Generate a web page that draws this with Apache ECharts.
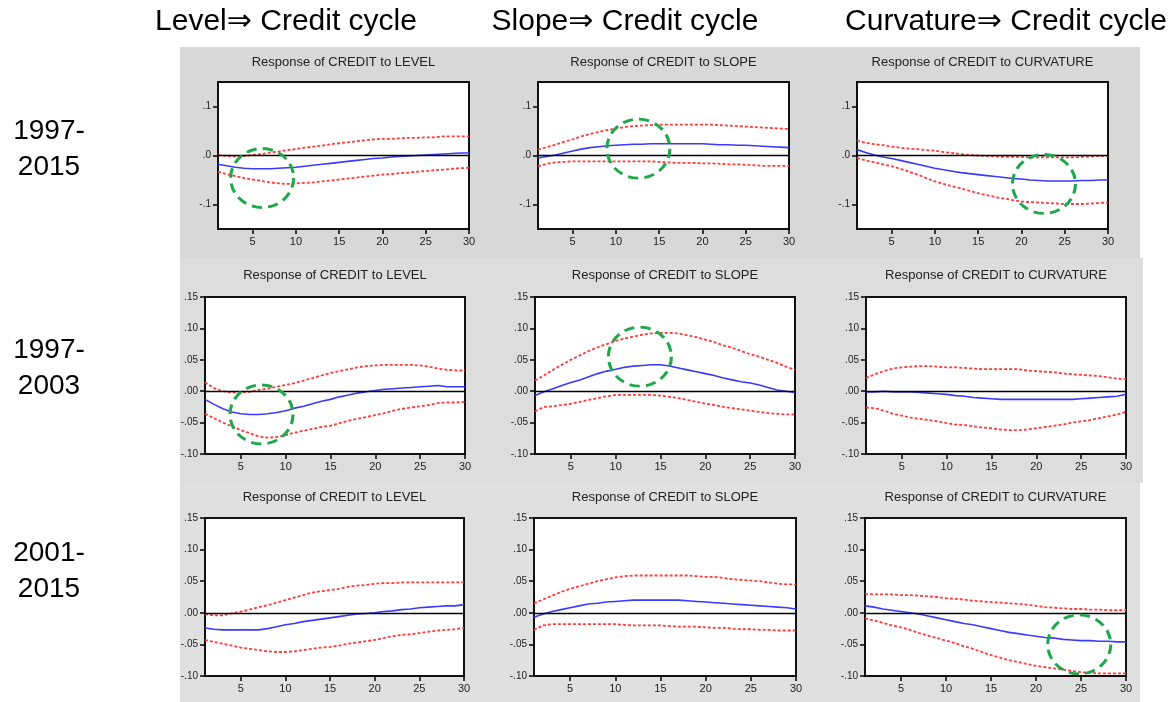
<!DOCTYPE html>
<html>
<head>
<meta charset="utf-8">
<script src="https://cdn.jsdelivr.net/npm/echarts@6/dist/echarts.min.js"></script>
<style>
html,body{margin:0;padding:0;background:#fff;}
#chart{width:1176px;height:702px;}
</style>
</head>
<body>
<div id="chart"></div>
<script>
// horizon (periods after the shock)
var steps = [1,2,3,4,5,6,7,8,9,10,11,12,13,14,15,16,17,18,19,20,21,22,23,24,25,26,27,28,29,30];

var colHeads = ['Level\u21d2 Credit cycle', 'Slope\u21d2 Credit cycle', 'Curvature\u21d2 Credit cycle'];
var rowHeads = ['1997-\n2015', '1997-\n2003', '2001-\n2015'];
var shocks = ['LEVEL', 'SLOPE', 'CURVATURE'];

// 1997-2015
var levelA   = [-0.018,-0.021,-0.024,-0.026,-0.027,-0.027,-0.027,-0.026,-0.025,-0.024,-0.022,-0.020,-0.018,-0.016,-0.014,-0.012,-0.010,-0.008,-0.006,-0.005,-0.003,-0.002,-0.001,0.000,0.001,0.002,0.003,0.004,0.005,0.005];
var levelAUp = [0.001,-0.001,-0.002,-0.001,0.001,0.003,0.006,0.008,0.011,0.013,0.016,0.018,0.020,0.023,0.025,0.027,0.029,0.031,0.033,0.034,0.034,0.035,0.036,0.036,0.037,0.037,0.039,0.039,0.039,0.039];
var levelALo = [-0.033,-0.038,-0.042,-0.046,-0.049,-0.052,-0.055,-0.057,-0.058,-0.057,-0.056,-0.055,-0.053,-0.051,-0.049,-0.047,-0.045,-0.043,-0.041,-0.039,-0.038,-0.036,-0.035,-0.033,-0.032,-0.030,-0.029,-0.027,-0.026,-0.025];
var slopeA   = [-0.005,-0.002,0.001,0.005,0.009,0.013,0.016,0.018,0.020,0.021,0.022,0.023,0.023,0.024,0.024,0.024,0.024,0.024,0.024,0.024,0.023,0.022,0.022,0.021,0.021,0.020,0.019,0.018,0.017,0.016];
var slopeAUp = [0.012,0.017,0.022,0.028,0.033,0.039,0.044,0.048,0.052,0.055,0.058,0.060,0.061,0.062,0.063,0.063,0.063,0.063,0.063,0.063,0.063,0.062,0.061,0.060,0.059,0.058,0.057,0.056,0.055,0.054];
var slopeALo = [-0.022,-0.017,-0.014,-0.013,-0.012,-0.012,-0.012,-0.012,-0.012,-0.012,-0.012,-0.012,-0.012,-0.012,-0.013,-0.014,-0.015,-0.015,-0.015,-0.016,-0.016,-0.017,-0.018,-0.018,-0.019,-0.020,-0.021,-0.021,-0.021,-0.021];
var curvA    = [0.012,0.006,0.001,-0.003,-0.006,-0.010,-0.014,-0.018,-0.022,-0.026,-0.029,-0.032,-0.035,-0.037,-0.039,-0.041,-0.043,-0.045,-0.047,-0.048,-0.050,-0.051,-0.052,-0.052,-0.052,-0.052,-0.051,-0.051,-0.050,-0.050];
var curvAUp  = [0.030,0.026,0.023,0.021,0.018,0.016,0.014,0.013,0.011,0.010,0.007,0.005,0.003,0.001,0.000,-0.001,-0.002,-0.003,-0.003,-0.003,-0.004,-0.004,-0.004,-0.004,-0.004,-0.004,-0.003,-0.002,-0.001,-0.001];
var curvALo  = [-0.005,-0.010,-0.014,-0.018,-0.022,-0.027,-0.033,-0.039,-0.046,-0.053,-0.058,-0.063,-0.067,-0.072,-0.077,-0.081,-0.085,-0.088,-0.091,-0.094,-0.095,-0.096,-0.097,-0.098,-0.099,-0.099,-0.099,-0.098,-0.097,-0.096];

// 1997-2003
var levelB   = [-0.013,-0.021,-0.028,-0.033,-0.036,-0.037,-0.037,-0.036,-0.034,-0.031,-0.027,-0.024,-0.020,-0.016,-0.013,-0.009,-0.006,-0.003,-0.001,0.001,0.003,0.004,0.005,0.006,0.007,0.008,0.009,0.007,0.007,0.007];
var levelBUp = [0.014,0.005,0.000,-0.002,-0.002,-0.001,0.002,0.004,0.007,0.010,0.013,0.017,0.021,0.025,0.029,0.032,0.035,0.038,0.040,0.041,0.042,0.042,0.042,0.042,0.041,0.039,0.036,0.034,0.033,0.033];
var levelBLo = [-0.036,-0.043,-0.050,-0.056,-0.062,-0.067,-0.072,-0.074,-0.073,-0.070,-0.066,-0.063,-0.060,-0.057,-0.055,-0.051,-0.047,-0.044,-0.041,-0.038,-0.035,-0.031,-0.028,-0.026,-0.024,-0.022,-0.019,-0.018,-0.018,-0.017];
var slopeB   = [-0.007,-0.001,0.004,0.009,0.014,0.018,0.023,0.028,0.032,0.035,0.038,0.040,0.041,0.042,0.042,0.040,0.037,0.034,0.031,0.028,0.025,0.021,0.018,0.015,0.013,0.010,0.006,0.002,0.000,-0.002];
var slopeBUp = [0.017,0.025,0.034,0.042,0.050,0.057,0.064,0.070,0.075,0.080,0.084,0.087,0.090,0.092,0.093,0.093,0.092,0.089,0.086,0.082,0.078,0.073,0.069,0.064,0.059,0.055,0.050,0.045,0.039,0.034];
var slopeBLo = [-0.032,-0.025,-0.024,-0.022,-0.020,-0.017,-0.014,-0.011,-0.008,-0.006,-0.006,-0.006,-0.006,-0.006,-0.007,-0.009,-0.011,-0.014,-0.017,-0.020,-0.022,-0.025,-0.027,-0.029,-0.031,-0.033,-0.035,-0.036,-0.037,-0.037];
var curvB    = [-0.001,-0.001,0.000,-0.001,-0.001,-0.001,-0.002,-0.003,-0.004,-0.005,-0.007,-0.008,-0.010,-0.011,-0.012,-0.013,-0.013,-0.013,-0.013,-0.013,-0.013,-0.013,-0.013,-0.013,-0.012,-0.011,-0.010,-0.009,-0.008,-0.005];
var curvBUp  = [0.021,0.027,0.032,0.036,0.038,0.039,0.040,0.040,0.039,0.038,0.038,0.037,0.036,0.035,0.035,0.035,0.035,0.035,0.033,0.032,0.031,0.030,0.028,0.027,0.026,0.025,0.024,0.022,0.020,0.019];
var curvBLo  = [-0.026,-0.027,-0.031,-0.036,-0.039,-0.042,-0.044,-0.046,-0.048,-0.051,-0.053,-0.054,-0.056,-0.058,-0.059,-0.061,-0.062,-0.062,-0.061,-0.059,-0.057,-0.055,-0.053,-0.050,-0.048,-0.046,-0.043,-0.040,-0.037,-0.033];

// 2001-2015
var levelC   = [-0.024,-0.026,-0.027,-0.027,-0.027,-0.027,-0.027,-0.025,-0.022,-0.019,-0.017,-0.014,-0.012,-0.010,-0.008,-0.006,-0.004,-0.002,-0.001,0.000,0.002,0.003,0.005,0.006,0.008,0.009,0.010,0.011,0.011,0.013];
var levelCUp = [-0.002,-0.004,-0.004,-0.001,0.002,0.005,0.009,0.012,0.016,0.020,0.024,0.028,0.032,0.034,0.036,0.038,0.041,0.043,0.044,0.046,0.047,0.047,0.048,0.048,0.048,0.048,0.048,0.048,0.048,0.048];
var levelCLo = [-0.043,-0.046,-0.049,-0.052,-0.055,-0.057,-0.059,-0.061,-0.062,-0.062,-0.061,-0.059,-0.057,-0.055,-0.054,-0.052,-0.049,-0.047,-0.045,-0.043,-0.040,-0.037,-0.035,-0.034,-0.032,-0.030,-0.028,-0.027,-0.026,-0.024];
var slopeC   = [-0.007,-0.002,0.002,0.005,0.008,0.011,0.014,0.015,0.017,0.018,0.019,0.020,0.020,0.020,0.020,0.020,0.020,0.019,0.018,0.017,0.016,0.015,0.014,0.013,0.012,0.011,0.010,0.009,0.008,0.006];
var slopeCUp = [0.015,0.021,0.027,0.033,0.038,0.042,0.046,0.050,0.053,0.056,0.058,0.059,0.059,0.059,0.059,0.059,0.059,0.059,0.058,0.057,0.057,0.055,0.053,0.052,0.051,0.050,0.048,0.046,0.045,0.045];
var slopeCLo = [-0.027,-0.020,-0.018,-0.018,-0.018,-0.018,-0.018,-0.018,-0.018,-0.018,-0.019,-0.020,-0.020,-0.020,-0.020,-0.021,-0.022,-0.022,-0.022,-0.023,-0.024,-0.024,-0.025,-0.026,-0.026,-0.027,-0.027,-0.028,-0.028,-0.028];
var curvC    = [0.011,0.009,0.006,0.004,0.002,0.000,-0.002,-0.005,-0.008,-0.011,-0.014,-0.017,-0.019,-0.022,-0.025,-0.028,-0.031,-0.033,-0.035,-0.037,-0.039,-0.040,-0.042,-0.043,-0.044,-0.044,-0.045,-0.045,-0.046,-0.046];
var curvCUp  = [0.030,0.029,0.029,0.029,0.028,0.028,0.027,0.026,0.025,0.023,0.022,0.021,0.019,0.018,0.017,0.016,0.015,0.014,0.013,0.011,0.009,0.008,0.007,0.006,0.006,0.005,0.005,0.004,0.004,0.004];
var curvCLo  = [-0.009,-0.012,-0.016,-0.020,-0.023,-0.027,-0.032,-0.036,-0.040,-0.044,-0.048,-0.053,-0.057,-0.062,-0.067,-0.071,-0.075,-0.078,-0.081,-0.084,-0.086,-0.088,-0.090,-0.092,-0.094,-0.095,-0.096,-0.096,-0.096,-0.096];

// green highlight circles: [panel index, horizon, response]
var circles = [[0, 6.1, -0.046], [1, 12.6, 0.014], [2, 22.6, -0.058], [3, 7.3, -0.037], [4, 12.7, 0.055], [8, 24.8, -0.050]];

var panels = [
    [levelA, levelAUp, levelALo], [slopeA, slopeAUp, slopeALo], [curvA, curvAUp, curvALo],
    [levelB, levelBUp, levelBLo], [slopeB, slopeBUp, slopeBLo], [curvB, curvBUp, curvBLo],
    [levelC, levelCUp, levelCLo], [slopeC, slopeCUp, slopeCLo], [curvC, curvCUp, curvCLo]
];

// layout of the plot boxes
var rowTop = [82, 297, 518];
var rowH = [147, 157, 158];
var colLeft = [[218, 538, 857], [205, 535, 866], [205, 534, 865]];
var colW = [[251, 251, 251], [260, 260, 260], [259, 262, 261]];
var titleY = [62, 275, 497];
var bandRects = [[180, 47, 960, 211, '#d8d8d8'], [180, 258, 963, 225, '#dddddd'], [180, 483, 960, 219, '#e0e0e0']];

function pairs(arr){
    return steps.map(function(s, i){ return [s, arr[i]]; });
}

var myChart = echarts.init(document.getElementById('chart'));

var grids = [], xAxes = [], yAxes = [], series = [], graphics = [];

bandRects.forEach(function(b){
    graphics.push({type: 'rect', z: -10, shape: {x: b[0], y: b[1], width: b[2], height: b[3]}, style: {fill: b[4]}});
});

colHeads.forEach(function(t, c){
    var cx = [286, 625, 1006][c];
    graphics.push({type: 'text', z: 100, x: cx, y: 22, style: {text: t, fill: '#000', font: '30px "Liberation Sans", "DejaVu Sans", sans-serif', textAlign: 'center', textVerticalAlign: 'middle'}});
});
rowHeads.forEach(function(t, r){
    var cy = [149, 368, 571][r];
    graphics.push({type: 'text', z: 100, x: 49, y: cy, style: {text: t, fill: '#000', font: '28px "Liberation Sans", "DejaVu Sans", sans-serif', lineHeight: 36, textAlign: 'center', textVerticalAlign: 'middle'}});
});

panels.forEach(function(p, i){
    var r = Math.floor(i / 3), c = i % 3;
    var left = colLeft[r][c], w = colW[r][c];
    grids.push({
        left: left, top: rowTop[r], width: w, height: rowH[r],
        show: true, backgroundColor: '#fff', borderColor: '#111', borderWidth: 2
    });
    graphics.push({type: 'text', z: 100, x: left + w / 2, y: titleY[r], style: {
        text: 'Response of CREDIT to ' + shocks[c], fill: '#222',
        font: '13px "Liberation Sans", Arial, sans-serif', textAlign: 'center', textVerticalAlign: 'middle'}});
    xAxes.push({
        type: 'value', gridIndex: i, min: 1, max: 30, position: 'bottom',
        splitLine: {show: false},
        axisLine: {show: false, onZero: false},
        axisTick: {show: true, length: 5, customValues: [5, 10, 15, 20, 25, 30], lineStyle: {color: '#000', width: 1.5}},
        axisLabel: {customValues: [5, 10, 15, 20, 25, 30], fontSize: 11, color: '#222', margin: 7, fontFamily: 'Liberation Sans'}
    });
    var yVals = r === 0 ? [-0.1, 0, 0.1] : [-0.1, -0.05, 0, 0.05, 0.1, 0.15];
    var dec = r === 0 ? 1 : 2;
    yAxes.push({
        type: 'value', gridIndex: i, position: 'left',
        min: r === 0 ? -0.15 : -0.1, max: 0.15,
        splitLine: {show: false},
        axisLine: {show: false, onZero: false},
        axisTick: {show: true, length: 5, customValues: yVals, lineStyle: {color: '#000', width: 1.5}},
        axisLabel: {customValues: yVals, fontSize: 10, color: '#222', margin: 7, fontFamily: 'Liberation Sans',
            formatter: function(v){ return v.toFixed(dec).replace('0.', '.'); }}
    });
    var marks = circles.filter(function(cc){ return cc[0] === i; }).map(function(cc){
        return {coord: [cc[1], cc[2]]};
    });
    series.push({
        type: 'line', xAxisIndex: i, yAxisIndex: i, data: pairs(p[0]),
        symbol: 'none', z: 3,
        lineStyle: {color: '#3a3aff', width: 1.6},
        markLine: {
            silent: true, symbol: 'none', label: {show: false},
            lineStyle: {color: '#000', type: 'solid', width: 1.3},
            data: [{yAxis: 0}]
        },
        markPoint: marks.length ? {
            silent: true, symbol: 'circle', symbolSize: [63, 59],
            label: {show: false},
            itemStyle: {color: 'rgba(0,0,0,0)', borderColor: '#1fa84a', borderWidth: 3, borderType: [10, 6]},
            data: marks
        } : undefined
    });
    series.push({
        type: 'line', xAxisIndex: i, yAxisIndex: i, data: pairs(p[1]),
        symbol: 'none', z: 2,
        lineStyle: {color: '#ff3b3b', width: 1.8, type: [3, 2]}
    });
    series.push({
        type: 'line', xAxisIndex: i, yAxisIndex: i, data: pairs(p[2]),
        symbol: 'none', z: 2,
        lineStyle: {color: '#ff3b3b', width: 1.8, type: [3, 2]}
    });
});

option = {
    animation: false,
    grid: grids,
    xAxis: xAxes,
    yAxis: yAxes,
    series: series,
    graphic: graphics
};
myChart.setOption(option);
</script>
</body>
</html>
